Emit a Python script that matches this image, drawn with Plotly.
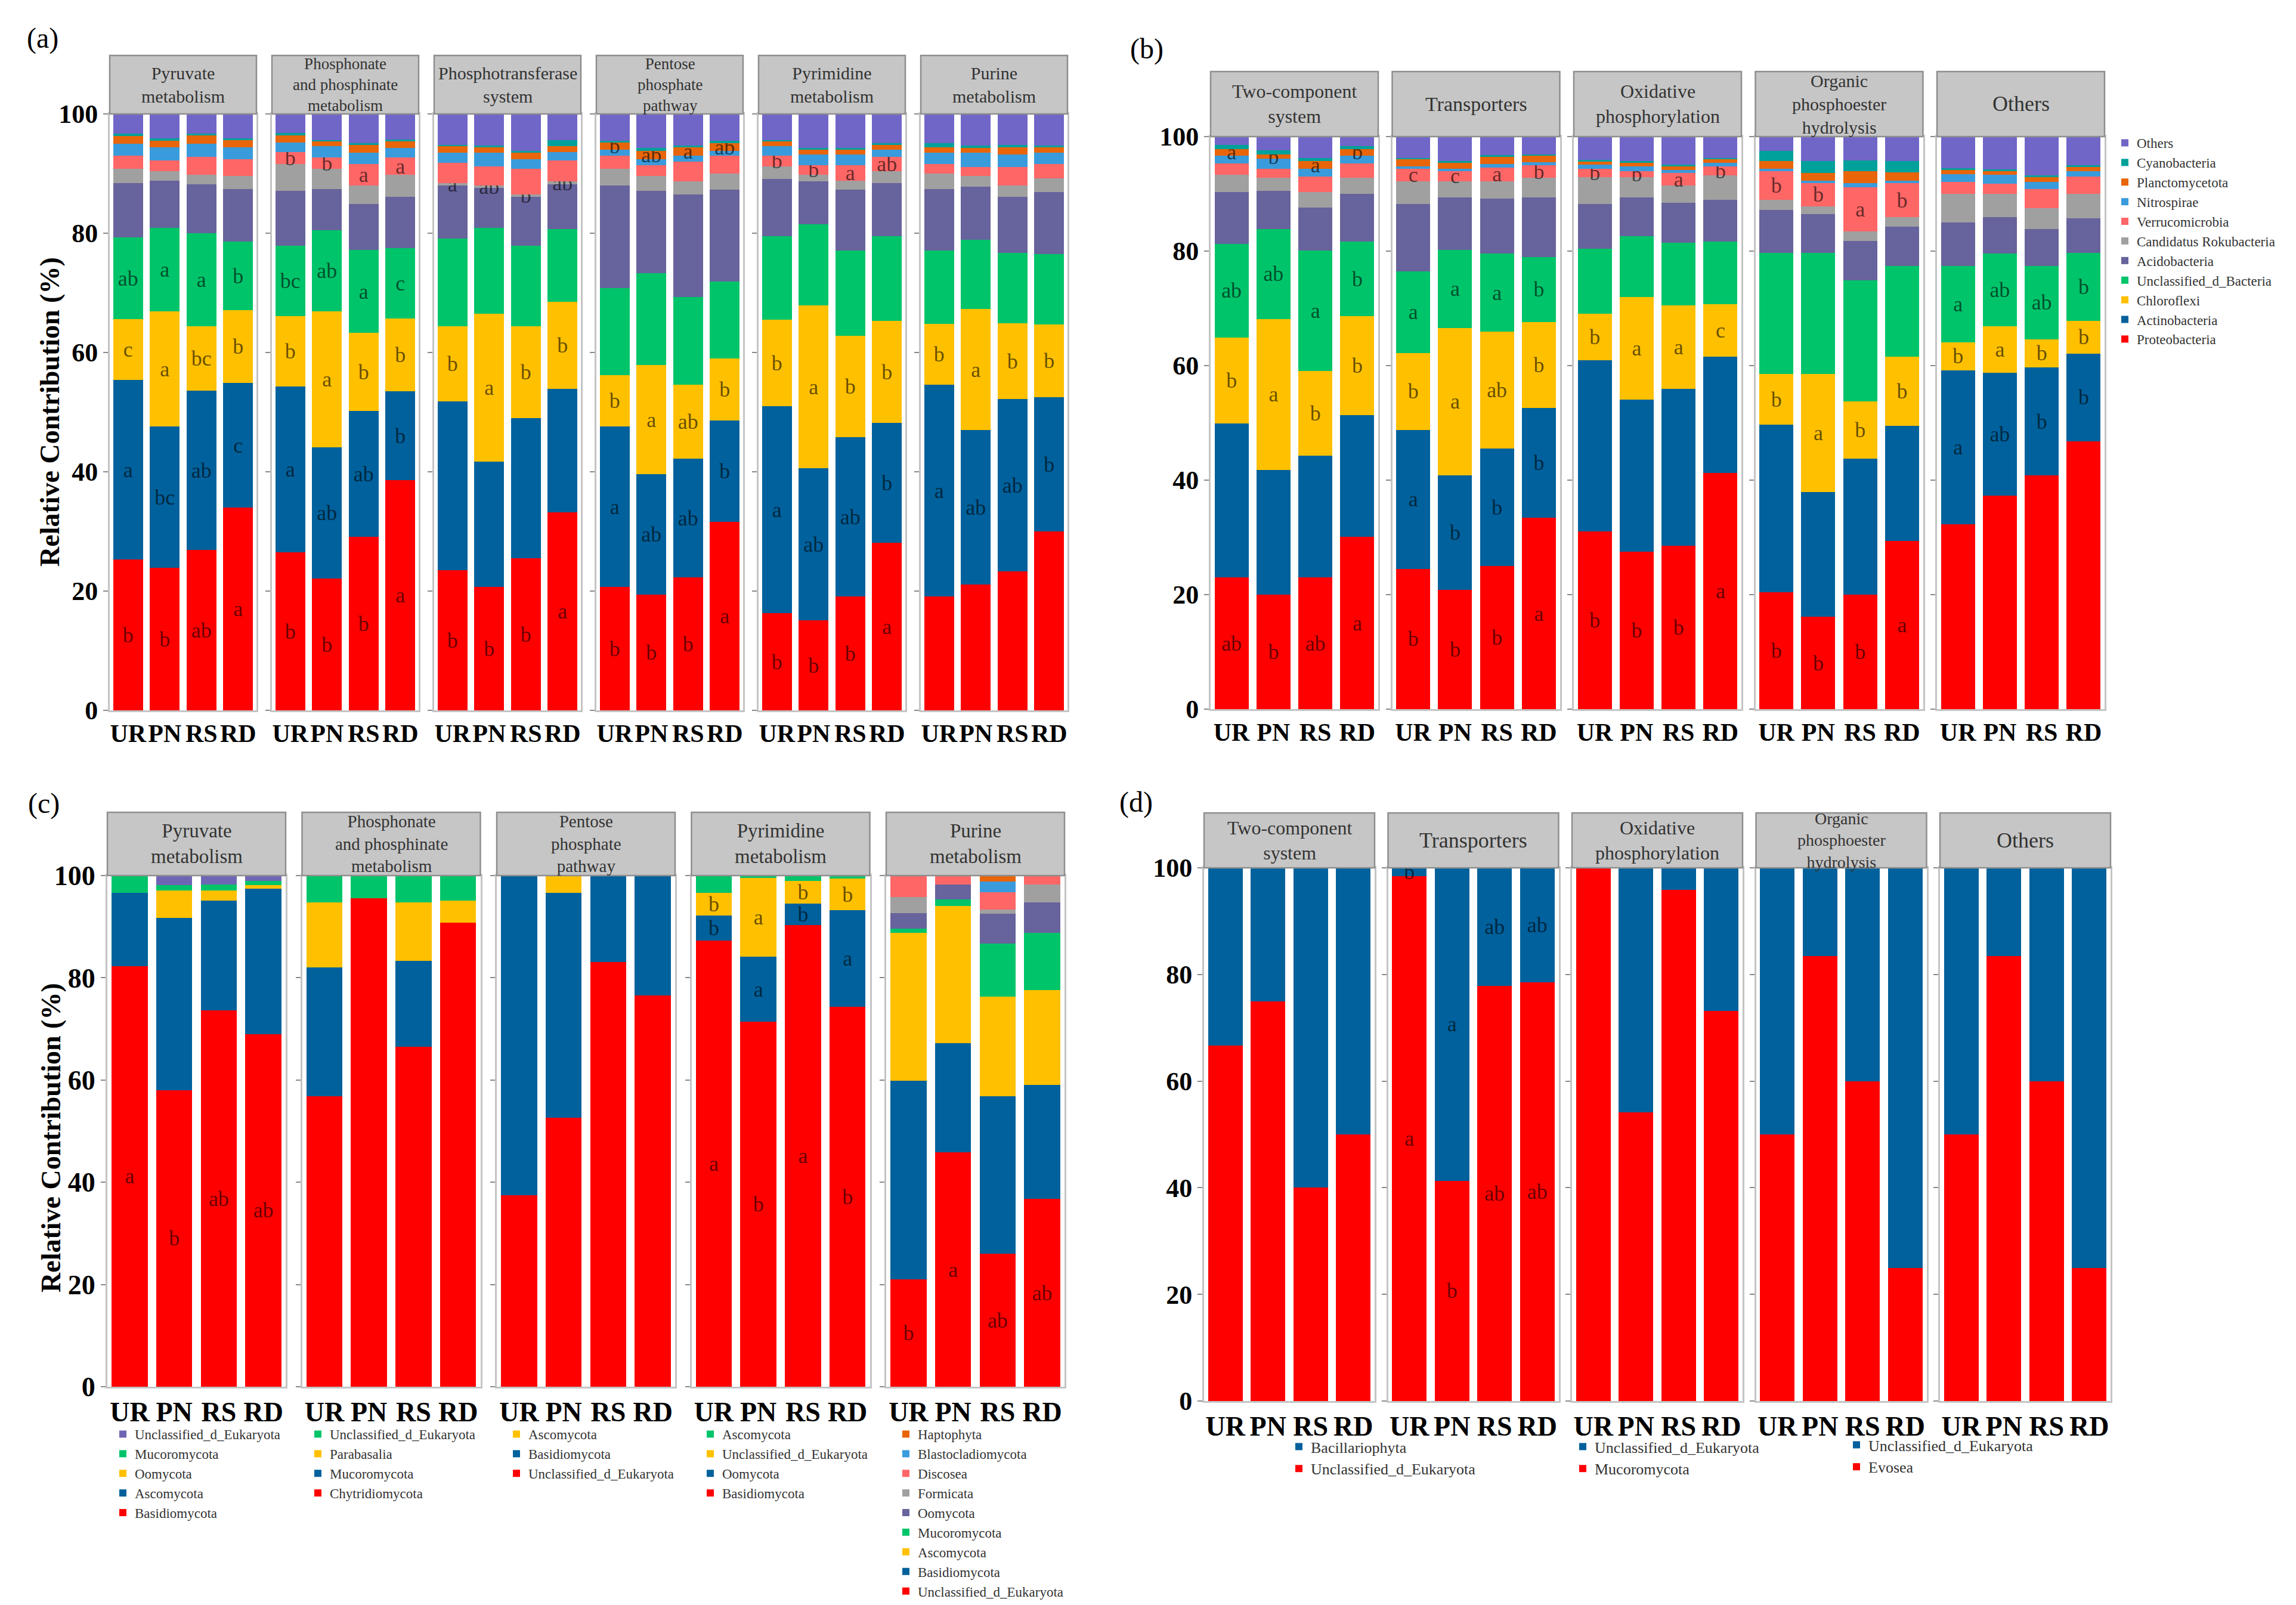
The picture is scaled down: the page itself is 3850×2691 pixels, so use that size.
import plotly.graph_objects as go

W, H = 3850, 2691
SERIF = "Liberation Serif"

samples = ["UR", "PN", "RS", "RD"]

RED, BLUE, YELLOW, GREEN = "#FF0000", "#00619C", "#FFC000", "#00C46A"
ACIDO, GREY, SALMON, SKY = "#67639C", "#A0A0A0", "#FF6666", "#3A9BDC"
ORANGE, TEAL, LAVENDER = "#E8650A", "#00A19A", "#7066C8"

# bacterial phyla, bottom of the stack first
bac_taxa = ["Proteobacteria", "Actinobacteria", "Chloroflexi", "Unclassified_d_Bacteria",
            "Acidobacteria", "Candidatus Rokubacteria", "Verrucomicrobia", "Nitrospirae",
            "Planctomycetota", "Cyanobacteria", "Others"]
bac_colors = [RED, BLUE, YELLOW, GREEN, ACIDO, GREY, SALMON, SKY, ORANGE, TEAL, LAVENDER]

# cumulative % at the top of each segment, per sample
a_pyruvate = {
    "UR": [25.3, 55.4, 65.6, 79.3, 88.4, 90.8, 93.0, 95.0, 96.3, 96.7, 100],
    "PN": [23.9, 47.6, 66.9, 80.9, 88.8, 90.4, 92.2, 94.4, 95.5, 95.9, 100],
    "RS": [26.9, 53.6, 64.4, 80.0, 88.2, 89.8, 92.8, 95.0, 96.4, 96.7, 100],
    "RD": [34.0, 54.9, 67.1, 78.6, 87.4, 89.6, 92.4, 94.4, 95.6, 95.9, 100],
}
a_pyruvate_sig = {
    "Proteobacteria": ["b", "b", "ab", "a"],
    "Actinobacteria": ["a", "bc", "ab", "c"],
    "Chloroflexi": ["c", "a", "bc", "b"],
    "Unclassified_d_Bacteria": ["ab", "a", "a", "b"],
}
a_phosphonate = {
    "UR": [26.5, 54.3, 66.1, 77.9, 87.1, 91.6, 93.6, 95.2, 96.4, 96.8, 100],
    "PN": [22.1, 44.1, 66.9, 80.5, 87.4, 90.8, 92.7, 94.6, 95.4, 95.6, 100],
    "RS": [29.1, 50.2, 63.3, 77.2, 84.9, 88.0, 91.6, 93.5, 94.8, 95.1, 100],
    "RD": [38.6, 53.5, 65.7, 77.5, 86.1, 89.8, 92.7, 94.3, 95.4, 95.7, 100],
}
a_phosphonate_sig = {
    "Proteobacteria": ["b", "b", "b", "a"],
    "Actinobacteria": ["a", "ab", "ab", "b"],
    "Chloroflexi": ["b", "a", "b", "b"],
    "Unclassified_d_Bacteria": ["bc", "ab", "a", "c"],
    "Verrucomicrobia": ["b", "b", "a", "a"],
}
a_pts = {
    "UR": [23.5, 51.8, 64.4, 79.1, 88.0, 88.4, 91.8, 93.5, 94.6, 94.8, 100],
    "PN": [20.7, 41.7, 66.5, 80.9, 87.6, 88.0, 91.2, 93.5, 94.4, 94.7, 100],
    "RS": [25.5, 49.0, 64.4, 77.9, 86.1, 86.5, 90.8, 92.4, 93.5, 93.8, 100],
    "RD": [33.2, 53.9, 68.5, 80.7, 88.2, 88.7, 92.2, 93.6, 94.6, 95.6, 100],
}
a_pts_sig = {
    "Proteobacteria": ["b", "b", "b", "a"],
    "Chloroflexi": ["b", "a", "b", "b"],
    "Candidatus Rokubacteria": ["a", "ab", "b", "ab"],
}
a_pentose = {
    "UR": [20.7, 47.6, 56.2, 70.8, 88.0, 90.8, 93.0, 94.0, 95.2, 95.5, 100],
    "PN": [19.4, 39.6, 57.9, 73.3, 87.1, 89.6, 91.4, 92.4, 93.8, 94.3, 100],
    "RS": [22.3, 42.2, 54.6, 69.3, 86.5, 88.7, 92.0, 93.0, 94.4, 94.7, 100],
    "RD": [31.6, 48.6, 59.0, 71.9, 87.3, 90.0, 93.0, 93.8, 95.1, 95.5, 100],
}
a_pentose_sig = {
    "Proteobacteria": ["b", "b", "b", "a"],
    "Actinobacteria": ["a", "ab", "ab", "b"],
    "Chloroflexi": ["b", "a", "ab", "b"],
    "Planctomycetota": ["b", "ab", "a", "ab"],
}
a_pyrimidine = {
    "UR": [16.3, 51.0, 65.5, 79.5, 89.1, 91.2, 93.0, 94.6, 95.4, 95.6, 100],
    "PN": [15.1, 40.6, 67.9, 81.5, 88.7, 89.8, 91.4, 93.2, 94.0, 94.3, 100],
    "RS": [19.1, 45.8, 62.8, 77.1, 87.3, 88.8, 91.4, 93.2, 94.0, 94.3, 100],
    "RD": [28.1, 48.2, 65.3, 79.5, 88.4, 90.4, 92.8, 94.0, 94.8, 95.1, 100],
}
a_pyrimidine_sig = {
    "Proteobacteria": ["b", "b", "b", "a"],
    "Actinobacteria": ["a", "ab", "ab", "b"],
    "Chloroflexi": ["b", "a", "b", "b"],
    "Verrucomicrobia": ["b", "b", "a", "ab"],
}
a_purine = {
    "UR": [19.1, 54.6, 64.8, 77.1, 87.4, 90.0, 91.6, 93.5, 94.4, 95.1, 100],
    "PN": [21.1, 47.0, 67.3, 78.9, 87.8, 89.6, 91.1, 93.5, 94.3, 94.7, 100],
    "RS": [23.3, 52.2, 64.9, 76.7, 86.1, 88.0, 91.1, 93.2, 94.4, 94.8, 100],
    "RD": [30.0, 52.5, 64.7, 76.5, 86.9, 89.2, 91.6, 93.5, 94.4, 94.7, 100],
}
a_purine_sig = {
    "Actinobacteria": ["a", "ab", "ab", "b"],
    "Chloroflexi": ["b", "a", "b", "b"],
}

b_twocomp = {
    "UR": [23.0, 49.9, 64.9, 81.3, 90.3, 93.3, 95.3, 96.7, 97.8, 98.5, 100],
    "PN": [20.0, 41.8, 68.1, 83.9, 90.5, 92.8, 94.4, 96.1, 96.9, 97.6, 100],
    "RS": [23.0, 44.3, 59.1, 80.1, 87.6, 90.3, 93.0, 94.4, 95.7, 96.3, 100],
    "RD": [30.1, 51.4, 68.6, 81.7, 90.0, 92.8, 95.3, 96.7, 97.8, 98.3, 100],
}
b_twocomp_sig = {
    "Proteobacteria": ["ab", "b", "ab", "a"],
    "Chloroflexi": ["b", "a", "b", "b"],
    "Unclassified_d_Bacteria": ["ab", "ab", "a", "b"],
    "Planctomycetota": ["a", "b", "a", "b"],
}
b_transporters = {
    "UR": [24.5, 48.8, 62.2, 76.5, 88.2, 92.2, 94.4, 94.8, 96.1, 96.3, 100],
    "PN": [20.8, 40.8, 66.6, 80.2, 89.4, 92.2, 94.0, 94.4, 95.4, 95.7, 100],
    "RS": [25.0, 45.5, 65.9, 79.6, 89.2, 92.2, 94.6, 95.2, 96.5, 96.8, 100],
    "RD": [33.4, 52.6, 67.6, 79.0, 89.4, 92.8, 95.0, 95.5, 96.7, 96.9, 100],
}
b_transporters_sig = {
    "Proteobacteria": ["b", "b", "b", "a"],
    "Actinobacteria": ["a", "b", "b", "b"],
    "Chloroflexi": ["b", "a", "ab", "b"],
    "Unclassified_d_Bacteria": ["a", "a", "a", "b"],
    "Verrucomicrobia": ["c", "c", "a", "b"],
}
b_oxidative = {
    "UR": [31.0, 60.9, 69.1, 80.4, 88.2, 92.9, 94.4, 95.1, 95.7, 95.9, 100],
    "PN": [27.5, 54.1, 72.0, 82.6, 89.4, 92.9, 94.0, 94.8, 95.4, 95.7, 100],
    "RS": [28.5, 55.9, 70.5, 81.5, 88.4, 91.5, 93.6, 94.2, 94.8, 95.1, 100],
    "RD": [41.2, 61.6, 70.7, 81.7, 89.0, 93.2, 94.8, 95.4, 96.1, 96.3, 100],
}
b_oxidative_sig = {
    "Proteobacteria": ["b", "b", "b", "a"],
    "Chloroflexi": ["b", "a", "a", "c"],
    "Verrucomicrobia": ["b", "b", "a", "b"],
}
b_organic = {
    "UR": [20.4, 49.7, 58.5, 79.7, 87.2, 89.0, 94.0, 94.4, 95.7, 97.5, 100],
    "PN": [16.1, 37.9, 58.5, 79.7, 86.5, 87.8, 91.9, 92.3, 93.6, 95.7, 100],
    "RS": [20.0, 43.7, 53.7, 74.9, 81.8, 83.4, 91.1, 91.9, 94.0, 95.8, 100],
    "RD": [29.4, 49.5, 61.6, 77.4, 84.3, 85.9, 91.9, 92.3, 93.8, 95.7, 100],
}
b_organic_sig = {
    "Proteobacteria": ["b", "b", "b", "a"],
    "Chloroflexi": ["b", "a", "b", "b"],
    "Verrucomicrobia": ["b", "b", "a", "b"],
}
b_others = {
    "UR": [32.3, 59.2, 64.1, 77.4, 85.0, 90.0, 92.1, 93.4, 94.2, 94.5, 100],
    "PN": [37.3, 58.8, 66.9, 79.6, 85.9, 90.0, 91.8, 93.3, 94.0, 94.3, 100],
    "RS": [40.8, 59.7, 64.6, 77.4, 83.9, 87.5, 90.8, 92.1, 92.9, 93.2, 100],
    "RD": [46.8, 62.1, 67.8, 79.7, 85.7, 90.0, 93.0, 94.0, 94.7, 95.0, 100],
}
b_others_sig = {
    "Actinobacteria": ["a", "ab", "b", "b"],
    "Chloroflexi": ["b", "a", "b", "b"],
    "Unclassified_d_Bacteria": ["a", "ab", "ab", "b"],
}

# eukaryotic contributors
c_pyruvate_taxa = ["Basidiomycota", "Ascomycota", "Oomycota", "Mucoromycota", "Unclassified_d_Eukaryota"]
c_pyruvate_colors = [RED, BLUE, YELLOW, GREEN, "#6E66B4"]
c_pyruvate = {
    "UR": [82.3, 96.6, 96.6, 100, 100],
    "PN": [58.0, 91.7, 97.1, 98.1, 100],
    "RS": [73.6, 95.1, 97.1, 98.2, 100],
    "RD": [69.0, 97.4, 98.1, 98.9, 100],
}
c_pyruvate_sig = {"Basidiomycota": ["a", "b", "ab", "ab"]}

c_phosphonate_taxa = ["Chytridiomycota", "Mucoromycota", "Parabasalia", "Unclassified_d_Eukaryota"]
c_phosphonate_colors = [RED, BLUE, YELLOW, GREEN]
c_phosphonate = {
    "UR": [56.8, 82.0, 94.8, 100],
    "PN": [95.6, 95.6, 95.6, 100],
    "RS": [66.5, 83.3, 94.8, 100],
    "RD": [90.8, 90.8, 95.1, 100],
}

c_pentose_taxa = ["Unclassified_d_Eukaryota", "Basidiomycota", "Ascomycota"]
c_pentose_colors = [RED, BLUE, YELLOW]
c_pentose = {
    "UR": [37.5, 100, 100],
    "PN": [52.6, 96.6, 100],
    "RS": [83.1, 100, 100],
    "RD": [76.6, 100, 100],
}

c_pyrimidine_taxa = ["Basidiomycota", "Oomycota", "Unclassified_d_Eukaryota", "Ascomycota"]
c_pyrimidine_colors = [RED, BLUE, YELLOW, GREEN]
c_pyrimidine = {
    "UR": [87.3, 92.2, 96.6, 100],
    "PN": [71.4, 84.1, 99.5, 100],
    "RS": [90.3, 94.5, 99.0, 100],
    "RD": [74.3, 93.2, 99.4, 100],
}
c_pyrimidine_sig = {
    "Basidiomycota": ["a", "b", "a", "b"],
    "Oomycota": ["b", "a", "b", "a"],
    "Unclassified_d_Eukaryota": ["b", "a", "b", "b"],
}

c_purine_taxa = ["Unclassified_d_Eukaryota", "Basidiomycota", "Ascomycota", "Mucoromycota",
                 "Oomycota", "Formicata", "Discosea", "Blastocladiomycota", "Haptophyta"]
c_purine_colors = [RED, BLUE, YELLOW, GREEN, ACIDO, GREY, SALMON, SKY, ORANGE]
c_purine = {
    "UR": [21.0, 59.9, 88.8, 89.6, 92.7, 95.8, 100, 100, 100],
    "PN": [45.8, 67.2, 94.0, 95.3, 98.2, 98.2, 100, 100, 100],
    "RS": [26.0, 56.8, 76.3, 86.7, 92.5, 93.4, 96.7, 98.8, 100],
    "RD": [36.7, 59.1, 77.6, 88.8, 94.8, 98.2, 100, 100, 100],
}
c_purine_sig = {"Unclassified_d_Eukaryota": ["b", "a", "ab", "ab"]}

d_bac_taxa = ["Unclassified_d_Eukaryota", "Bacillariophyta"]
d_muco_taxa = ["Mucoromycota", "Unclassified_d_Eukaryota"]
d_evo_taxa = ["Evosea", "Unclassified_d_Eukaryota"]
d_colors = [RED, BLUE]
d_twocomp = {"UR": [66.7, 100], "PN": [75.0, 100], "RS": [40.0, 100], "RD": [50.0, 100]}
d_transporters = {"UR": [98.4, 100], "PN": [41.3, 100], "RS": [77.9, 100], "RD": [78.5, 100]}
d_transporters_sig = {
    "Unclassified_d_Eukaryota": ["a", "b", "ab", "ab"],
    "Bacillariophyta": ["b", "a", "ab", "ab"],
}
d_oxidative = {"UR": [100, 100], "PN": [54.1, 100], "RS": [95.9, 100], "RD": [73.1, 100]}
d_organic = {"UR": [50.0, 100], "PN": [83.4, 100], "RS": [60.0, 100], "RD": [25.0, 100]}
d_others = {"UR": [50.0, 100], "PN": [83.4, 100], "RS": [60.0, 100], "RD": [25.0, 100]}

fig = go.Figure()
n_axes = [0]


def add_facet(left, width, top, bottom, strip_top, label, label_size, taxa, colors, tops, sig,
              legend=None, first=False, xtick=42, ytick=44):
    n_axes[0] += 1
    sfx = "" if n_axes[0] == 1 else str(n_axes[0])
    for i, name in enumerate(taxa):
        seg = [round(tops[s][i] - (tops[s][i - 1] if i else 0), 2) for s in samples]
        fig.add_trace(go.Bar(
            x=samples, y=seg, name=name, xaxis="x" + sfx, yaxis="y" + sfx,
            marker=dict(color=colors[i], line=dict(width=0)),
            text=sig.get(name, [""] * 4), textposition="inside", insidetextanchor="middle",
            textangle=0, constraintext="none", cliponaxis=False,
            insidetextfont=dict(family=SERIF, size=36, color="rgba(0,0,0,0.6)"),
            showlegend=legend is not None, legend=legend or "legend",
        ))
    frame = dict(showline=True, linecolor="#C4C4C4", linewidth=3, mirror=True,
                 fixedrange=True, automargin=False)
    fig.update_layout({
        "xaxis" + sfx: dict(domain=[left / W, (left + width) / W], anchor="y" + sfx,
                            type="category", range=[-0.5, 3.5], ticks="", tickangle=0,
                            tickfont=dict(family=SERIF, size=xtick, color="black", weight="bold"),
                            **frame),
        "yaxis" + sfx: dict(domain=[1 - bottom / H, 1 - top / H], anchor="x" + sfx,
                            range=[0, 100], tickvals=[0, 20, 40, 60, 80, 100],
                            ticks="outside", ticklen=8, tickcolor="#8A8A8A", tickwidth=2,
                            showgrid=False, zeroline=False, showticklabels=first,
                            tickfont=dict(family=SERIF, size=ytick, color="black", weight="bold"),
                            **frame),
    })
    fig.add_shape(type="rect", xref="paper", yref="paper",
                  x0=left / W, x1=(left + width) / W, y0=1 - top / H, y1=1 - strip_top / H,
                  fillcolor="#C6C6C6", line=dict(color="#8E8E8E", width=2.5), layer="above")
    fig.add_annotation(x=(left + width / 2) / W, y=1 - (top + strip_top) / 2 / H,
                       xref="paper", yref="paper", text=label, showarrow=False,
                       xanchor="center", yanchor="middle",
                       font=dict(family=SERIF, size=label_size, color="#333333"))


# (a) bacteria, six pathways
panel_a = [
    ("Pyruvate<br>metabolism", 30, a_pyruvate, a_pyruvate_sig),
    ("Phosphonate<br>and phosphinate<br>metabolism", 27, a_phosphonate, a_phosphonate_sig),
    ("Phosphotransferase<br>system", 30, a_pts, a_pts_sig),
    ("Pentose<br>phosphate<br>pathway", 27, a_pentose, a_pentose_sig),
    ("Pyrimidine<br>metabolism", 30, a_pyrimidine, a_pyrimidine_sig),
    ("Purine<br>metabolism", 30, a_purine, a_purine_sig),
]
for k, (lab, fs, tops, sig) in enumerate(panel_a):
    add_facet(176 + k * 272, 246, 183, 1183, 85, lab, fs, bac_taxa, bac_colors, tops, sig,
              first=(k == 0))

# (b) bacteria, P-cycling functions
panel_b = [
    ("Two-component<br>system", 32, b_twocomp, b_twocomp_sig),
    ("Transporters", 34, b_transporters, b_transporters_sig),
    ("Oxidative<br>phosphorylation", 32, b_oxidative, b_oxidative_sig),
    ("Organic<br>phosphoester<br>hydrolysis", 30, b_organic, b_organic_sig),
    ("Others", 36, b_others, b_others_sig),
]
for k, (lab, fs, tops, sig) in enumerate(panel_b):
    add_facet(2022 + k * 304.5, 281, 221, 1181, 112, lab, fs, bac_taxa, bac_colors, tops, sig,
              legend="legend" if k == 0 else None, first=(k == 0))

# (c) eukaryotes, five pathways
panel_c = [
    ("Pyruvate<br>metabolism", 33, c_pyruvate_taxa, c_pyruvate_colors, c_pyruvate, c_pyruvate_sig),
    ("Phosphonate<br>and phosphinate<br>metabolism", 29, c_phosphonate_taxa, c_phosphonate_colors, c_phosphonate, {}),
    ("Pentose<br>phosphate<br>pathway", 29, c_pentose_taxa, c_pentose_colors, c_pentose, {}),
    ("Pyrimidine<br>metabolism", 33, c_pyrimidine_taxa, c_pyrimidine_colors, c_pyrimidine, c_pyrimidine_sig),
    ("Purine<br>metabolism", 33, c_purine_taxa, c_purine_colors, c_purine, c_purine_sig),
]
for k, (lab, fs, taxa, cols, tops, sig) in enumerate(panel_c):
    add_facet(172 + k * 326.5, 299, 1460, 2317, 1354, lab, fs, taxa, cols, tops, sig,
              legend="legend%d" % (k + 2), first=(k == 0), xtick=46, ytick=46)

# (d) eukaryotes, P-cycling functions
panel_d = [
    ("Two-component<br>system", 32, d_bac_taxa, d_twocomp, {}, "legend7"),
    ("Transporters", 36, d_bac_taxa, d_transporters, d_transporters_sig, None),
    ("Oxidative<br>phosphorylation", 32, d_muco_taxa, d_oxidative, {}, "legend8"),
    ("Organic<br>phosphoester<br>hydrolysis", 28, d_evo_taxa, d_organic, {}, "legend9"),
    ("Others", 36, d_evo_taxa, d_others, {}, None),
]
for k, (lab, fs, taxa, tops, sig, leg) in enumerate(panel_d):
    add_facet(2011 + k * 308.5, 286, 1447, 2341, 1355, lab, fs, taxa, d_colors, tops, sig,
              legend=leg, first=(k == 0), xtick=46, ytick=44)

# legends: (left px, top px, font size)
legend_spots = {
    "legend": (3535, 210, 23),
    "legend2": (178, 2375, 23),
    "legend3": (505, 2375, 23),
    "legend4": (838, 2375, 23),
    "legend5": (1163, 2375, 23),
    "legend6": (1491, 2375, 23),
    "legend7": (2150, 2394, 26),
    "legend8": (2626, 2394, 26),
    "legend9": (3085, 2391, 26),
}
for key, (lx, ly, fs) in legend_spots.items():
    fig.update_layout({key: dict(x=lx / W, y=1 - ly / H, xanchor="left", yanchor="top",
                                 font=dict(family=SERIF, size=fs, color="#333333"),
                                 bgcolor="rgba(0,0,0,0)", traceorder="reversed",
                                 tracegroupgap=0, itemclick=False, itemdoubleclick=False)})

for txt, x, y in [("(a)", 63, 56), ("(b)", 1915, 74), ("(c)", 65, 1339), ("(d)", 1897, 1337)]:
    fig.add_annotation(x=x / W, y=1 - y / H, xref="paper", yref="paper", text=txt,
                       showarrow=False, xanchor="center", yanchor="middle",
                       font=dict(family=SERIF, size=48, color="black"))
for x, y in [(75, 683), (77, 1900)]:
    fig.add_annotation(x=x / W, y=1 - y / H, xref="paper", yref="paper",
                       text="Relative Contribution (%)", textangle=-90, showarrow=False,
                       xanchor="center", yanchor="middle",
                       font=dict(family=SERIF, size=46, color="black", weight="bold"))

fig.update_layout(
    width=W, height=H, margin=dict(l=0, r=0, t=0, b=0, autoexpand=False),
    barmode="stack", bargap=0.19, showlegend=True,
    paper_bgcolor="white", plot_bgcolor="white",
)

fig.write_html("out.html")
